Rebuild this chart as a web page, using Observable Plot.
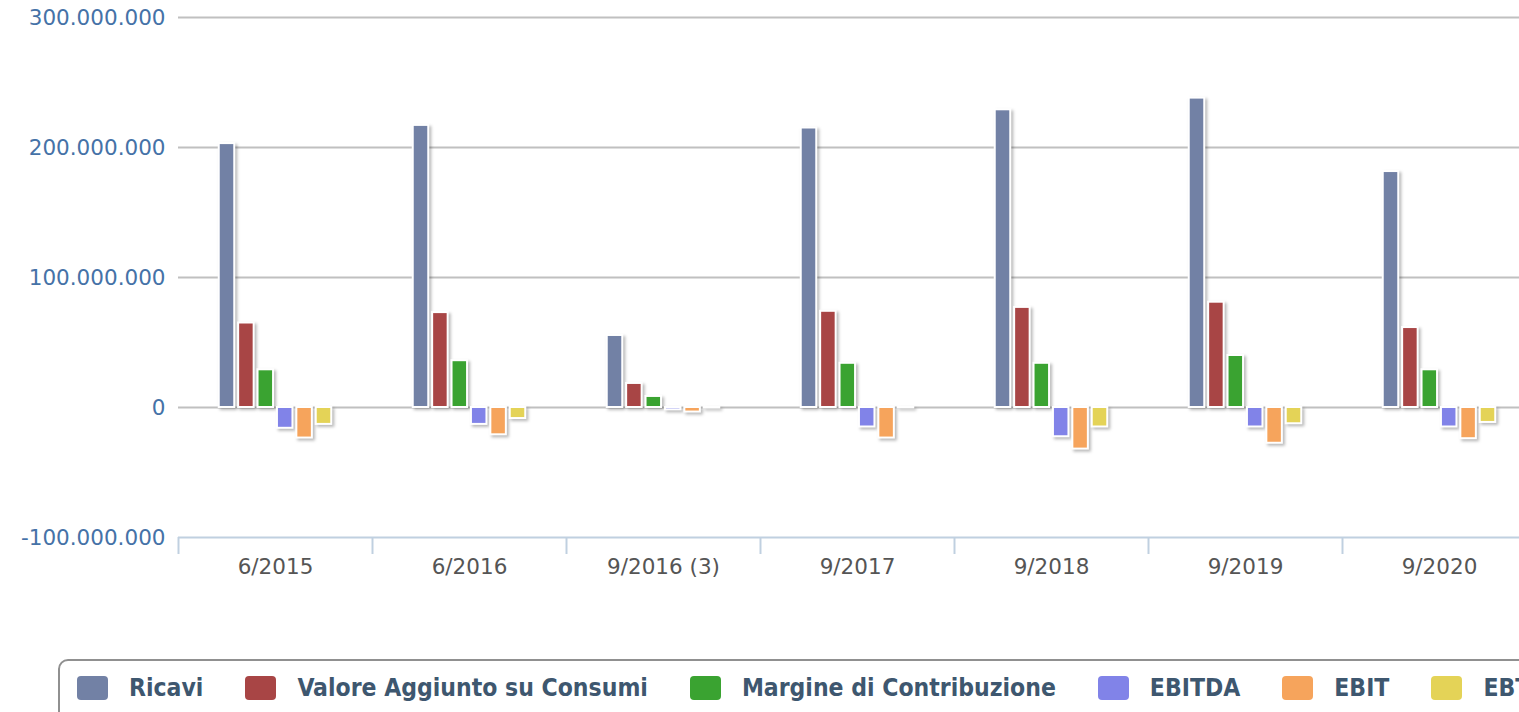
<!DOCTYPE html>
<html><head><meta charset="utf-8">
<script src="https://cdn.jsdelivr.net/npm/d3@7"></script>
<script src="https://cdn.jsdelivr.net/npm/@observablehq/plot@0.6"></script>
<style>
html,body{margin:0;padding:0;background:#fff;overflow:hidden;width:1519px;height:712px;}
#chart{position:absolute;left:0;top:0;width:1560px;}
#chart svg{max-width:none !important;}
#chart svg g[aria-label="bar"] rect{filter:drop-shadow(2px 2px 1.5px rgba(0,0,0,0.28));}
#legend{position:absolute;left:58px;top:659px;width:1560px;height:80px;border:2px solid #909090;border-radius:10px;box-sizing:border-box;padding:15px 0 0 17px;display:flex;flex-direction:row;align-items:flex-start;white-space:nowrap;}
.item{display:flex;align-items:center;height:24px;margin-right:42px;}
.sym{width:31px;height:24px;border-radius:4px;margin-right:21px;flex:none;}
.lab{font-family:"DejaVu Sans Condensed","Liberation Sans Narrow","DejaVu Sans",sans-serif;font-stretch:condensed;font-weight:bold;font-size:24.5px;color:#3e576f;line-height:24px;}
</style></head>
<body><div id="chart"></div><div id="legend"></div>
<script>
const categories = ["6/2015","6/2016","9/2016 (3)","9/2017","9/2018","9/2019","9/2020"];
const seriesNames = ["Ricavi","Valore Aggiunto su Consumi","Margine di Contribuzione","EBITDA","EBIT","EBT"];
const ricavi   = [203e6, 217e6, 55.4e6, 215e6, 229e6, 238e6, 181.5e6];
const valore   = [65e6, 73e6, 18.5e6, 74e6, 77e6, 81e6, 61.5e6];
const margine  = [29e6, 36e6, 8.5e6, 34e6, 34e6, 40e6, 29e6];
const ebitda   = [-16e6, -13e6, -1.8e6, -15e6, -22.5e6, -15e6, -15e6];
const ebit     = [-23.5e6, -21e6, -3.5e6, -23.5e6, -32e6, -27.5e6, -24e6];
const ebt      = [-13e6, -8.5e6, -0.4e6, -0.3e6, -15e6, -12.5e6, -11.5e6];
const seriesColors = ["#7281a5","#a84545","#3aa331","#8183e8","#f6a45c","#e4d357"];
const yTicks = [-100e6, 0, 100e6, 200e6, 300e6];

const seriesValues = [ricavi, valore, margine, ebitda, ebit, ebt];
const rows = [];
seriesNames.forEach((s, si) => categories.forEach((c, ci) => rows.push({series: s, cat: c, value: seriesValues[si][ci]})));

const width = 1560, height = 600, marginLeft = 178, marginRight = 24, marginTop = 17, marginBottom = 63;
const bw = (width - marginLeft - marginRight) / categories.length;
const groupPad = 0.2, pointPad = 0.1;
const pitch = bw * (1 - 2 * groupPad) / seriesNames.length;
const barW = pitch * (1 - 2 * pointPad);

const loc = d3.formatLocale({decimal: ",", thousands: ".", grouping: [3], currency: ["", ""], minus: "-"});
const fmt = loc.format(",d");
const font = "DejaVu Sans, sans-serif";

const barMarks = seriesNames.map((s, i) => {
  const left = bw * groupPad + i * pitch + pitch * pointPad;
  return Plot.barY(rows.filter(d => d.series === s), {
    x: "cat", y: "value", fill: seriesColors[i], stroke: "white", strokeWidth: 2,
    insetLeft: left, insetRight: bw - left - barW
  });
});

const chart = Plot.plot({
  width, height, marginLeft, marginRight, marginTop, marginBottom,
  style: {fontFamily: font, fontSize: "21.5px", background: "white", overflow: "visible", maxWidth: "none"},
  x: {type: "band", domain: categories, padding: 0},
  y: {domain: [-100e6, 300e6]},
  marks: [
    Plot.gridY(yTicks.filter(t => t > -100e6), {stroke: "#c0c0c0", strokeOpacity: 1, strokeWidth: 2}),
    Plot.ruleY([-100e6], {stroke: "#c0d0e0", strokeWidth: 2}),
    Plot.axisY({ticks: yTicks, tickSize: 0, tickPadding: 13, tickFormat: fmt, fill: "#4572a7", fontSize: 21.5, dy: 1, label: null}),
    Plot.axisX({tickSize: 17, tickFormat: () => "", stroke: "#c0d0e0", strokeWidth: 2, dx: -bw / 2, label: null}),
    Plot.axisX({tickSize: 0, tickPadding: 21, fill: "#555", fontSize: 21.5, label: null}),
    ...barMarks
  ]
});
document.getElementById("chart").appendChild(chart);

const legend = d3.select("#legend");
seriesNames.forEach((s, i) => {
  const it = legend.append("div").attr("class", "item");
  it.append("div").attr("class", "sym").style("background", seriesColors[i]);
  it.append("span").attr("class", "lab").text(s);
});
</script>
</body></html>
